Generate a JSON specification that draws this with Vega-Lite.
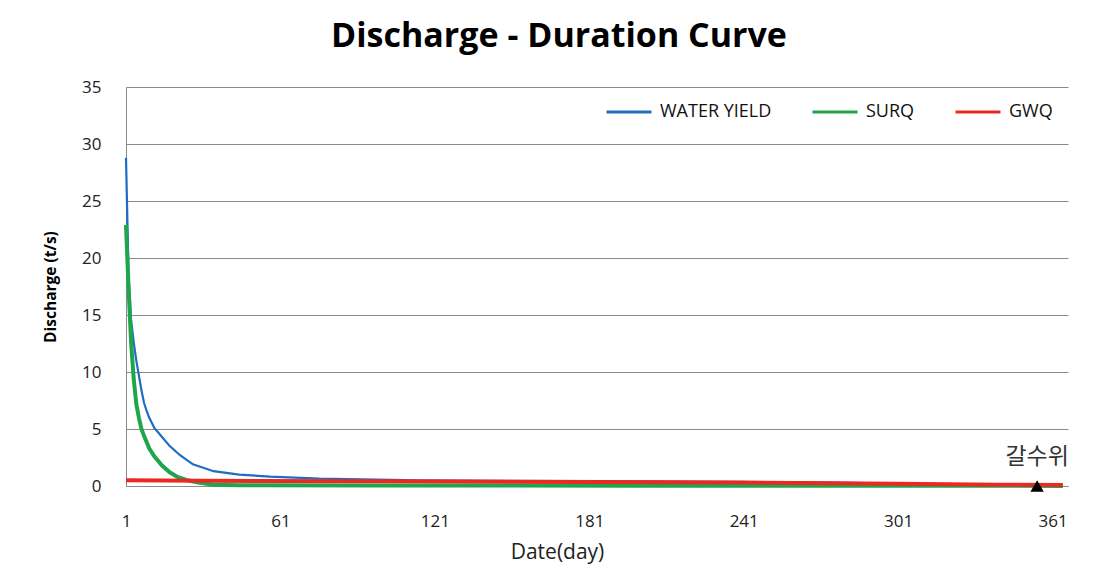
{
  "$schema": "https://vega.github.io/schema/vega-lite/v6.json",
  "autosize": "none",
  "width": 942,
  "height": 399,
  "padding": {"left": 126, "top": 87, "right": 39, "bottom": 86},
  "background": "white",
  "title": {
    "text": "Discharge - Duration Curve",
    "font": "Open Sans",
    "fontSize": 34,
    "fontWeight": "bold",
    "color": "#000000",
    "anchor": "middle",
    "dx": -38,
    "offset": 24
  },
  "datasets": {
    "flow": [
      {"day": 1, "value": 28.8, "series": "WATER YIELD"},
      {"day": 2, "value": 18.5, "series": "WATER YIELD"},
      {"day": 3, "value": 14.5, "series": "WATER YIELD"},
      {"day": 4, "value": 12.6, "series": "WATER YIELD"},
      {"day": 5, "value": 11.0, "series": "WATER YIELD"},
      {"day": 6, "value": 9.7, "series": "WATER YIELD"},
      {"day": 7, "value": 8.4, "series": "WATER YIELD"},
      {"day": 8, "value": 7.3, "series": "WATER YIELD"},
      {"day": 9, "value": 6.6, "series": "WATER YIELD"},
      {"day": 10, "value": 6.0, "series": "WATER YIELD"},
      {"day": 12, "value": 5.1, "series": "WATER YIELD"},
      {"day": 15, "value": 4.3, "series": "WATER YIELD"},
      {"day": 18, "value": 3.5, "series": "WATER YIELD"},
      {"day": 22, "value": 2.7, "series": "WATER YIELD"},
      {"day": 27, "value": 1.9, "series": "WATER YIELD"},
      {"day": 35, "value": 1.3, "series": "WATER YIELD"},
      {"day": 45, "value": 1.0, "series": "WATER YIELD"},
      {"day": 57, "value": 0.82, "series": "WATER YIELD"},
      {"day": 76, "value": 0.64, "series": "WATER YIELD"},
      {"day": 115, "value": 0.5, "series": "WATER YIELD"},
      {"day": 150, "value": 0.46, "series": "WATER YIELD"},
      {"day": 185, "value": 0.42, "series": "WATER YIELD"},
      {"day": 230, "value": 0.36, "series": "WATER YIELD"},
      {"day": 270, "value": 0.32, "series": "WATER YIELD"},
      {"day": 300, "value": 0.22, "series": "WATER YIELD"},
      {"day": 330, "value": 0.15, "series": "WATER YIELD"},
      {"day": 365, "value": 0.08, "series": "WATER YIELD"},
      {"day": 1, "value": 22.9, "series": "SURQ"},
      {"day": 2, "value": 17.3, "series": "SURQ"},
      {"day": 3, "value": 12.5, "series": "SURQ"},
      {"day": 4, "value": 9.4, "series": "SURQ"},
      {"day": 5, "value": 7.2, "series": "SURQ"},
      {"day": 6, "value": 6.0, "series": "SURQ"},
      {"day": 7, "value": 5.0, "series": "SURQ"},
      {"day": 8, "value": 4.4, "series": "SURQ"},
      {"day": 10, "value": 3.3, "series": "SURQ"},
      {"day": 12, "value": 2.6, "series": "SURQ"},
      {"day": 15, "value": 1.8, "series": "SURQ"},
      {"day": 18, "value": 1.2, "series": "SURQ"},
      {"day": 21, "value": 0.8, "series": "SURQ"},
      {"day": 25, "value": 0.5, "series": "SURQ"},
      {"day": 29, "value": 0.3, "series": "SURQ"},
      {"day": 35, "value": 0.12, "series": "SURQ"},
      {"day": 45, "value": 0.06, "series": "SURQ"},
      {"day": 100, "value": 0.04, "series": "SURQ"},
      {"day": 200, "value": 0.03, "series": "SURQ"},
      {"day": 300, "value": 0.02, "series": "SURQ"},
      {"day": 365, "value": 0.01, "series": "SURQ"},
      {"day": 1, "value": 0.5, "series": "GWQ"},
      {"day": 30, "value": 0.46, "series": "GWQ"},
      {"day": 100, "value": 0.41, "series": "GWQ"},
      {"day": 180, "value": 0.36, "series": "GWQ"},
      {"day": 240, "value": 0.3, "series": "GWQ"},
      {"day": 300, "value": 0.2, "series": "GWQ"},
      {"day": 340, "value": 0.12, "series": "GWQ"},
      {"day": 365, "value": 0.08, "series": "GWQ"}
    ],
    "mark": [
      {"day": 355, "value": 0, "label": "갈수위"}
    ]
  },
  "encoding": {
    "x": {
      "field": "day",
      "type": "quantitative",
      "scale": {"domain": [1, 367], "nice": false, "zero": false},
      "axis": {
        "values": [1, 61, 121, 181, 241, 301, 361],
        "title": "Date(day)",
        "titleFont": "Open Sans",
        "titleFontSize": 21,
        "titleFontWeight": "normal",
        "titleColor": "#222222",
        "titleX": 431,
        "titleAnchor": "middle",
        "titlePadding": 12,
        "labelFont": "Open Sans",
        "labelFontSize": 17,
        "labelColor": "#222222",
        "labelPadding": 27,
        "ticks": false,
        "grid": false,
        "domainColor": "#8a8a8a",
        "labelFlush": false
      }
    },
    "y": {
      "field": "value",
      "type": "quantitative",
      "scale": {"domain": [0, 35], "nice": false},
      "axis": {
        "values": [0, 5, 10, 15, 20, 25, 30, 35],
        "title": "Discharge (t/s)",
        "titleFont": "Open Sans",
        "titleFontSize": 15.5,
        "titleFontWeight": "bold",
        "titleColor": "#000000",
        "titlePadding": 23,
        "labelFont": "Open Sans",
        "labelFontSize": 17,
        "labelColor": "#222222",
        "labelPadding": 25,
        "ticks": false,
        "grid": true,
        "gridColor": "#8a8a8a",
        "gridWidth": 1,
        "domainColor": "#8a8a8a"
      }
    }
  },
  "layer": [
    {
      "data": {"name": "flow"},
      "transform": [{"filter": "datum.series === 'WATER YIELD'"}],
      "mark": {"type": "line", "strokeWidth": 2.2},
      "encoding": {
        "color": {
          "field": "series",
          "type": "nominal",
          "scale": {"domain": ["WATER YIELD", "SURQ", "GWQ"], "range": ["#1f6cc4", "#1fa64a", "#ea2a22"]},
          "legend": {
            "title": null,
            "orient": "none",
            "direction": "horizontal",
            "legendX": 479,
            "legendY": 1,
            "symbolType": "stroke",
            "symbolSize": 2025,
            "symbolStrokeWidth": 3,
            "labelFont": "Open Sans",
            "labelFontSize": 18,
            "labelColor": "#111111",
            "labelOffset": 7,
            "columnPadding": 34
          }
        }
      }
    },
    {
      "data": {"name": "flow"},
      "transform": [{"filter": "datum.series === 'SURQ'"}],
      "mark": {"type": "line", "strokeWidth": 4},
      "encoding": {"color": {"field": "series", "type": "nominal"}}
    },
    {
      "data": {"name": "flow"},
      "transform": [{"filter": "datum.series === 'GWQ'"}],
      "mark": {"type": "line", "strokeWidth": 4},
      "encoding": {"color": {"field": "series", "type": "nominal"}}
    },
    {
      "data": {"name": "mark"},
      "mark": {"type": "point", "shape": "triangle-up", "filled": true, "color": "#000000", "size": 180, "opacity": 1},
      "encoding": {}
    },
    {
      "data": {"name": "mark"},
      "mark": {"type": "text", "font": "Noto Sans CJK KR", "fontSize": 23, "color": "#333333", "dy": -29, "align": "center"},
      "encoding": {"text": {"field": "label"}}
    }
  ],
  "config": {
    "view": {"stroke": null}
  }
}
